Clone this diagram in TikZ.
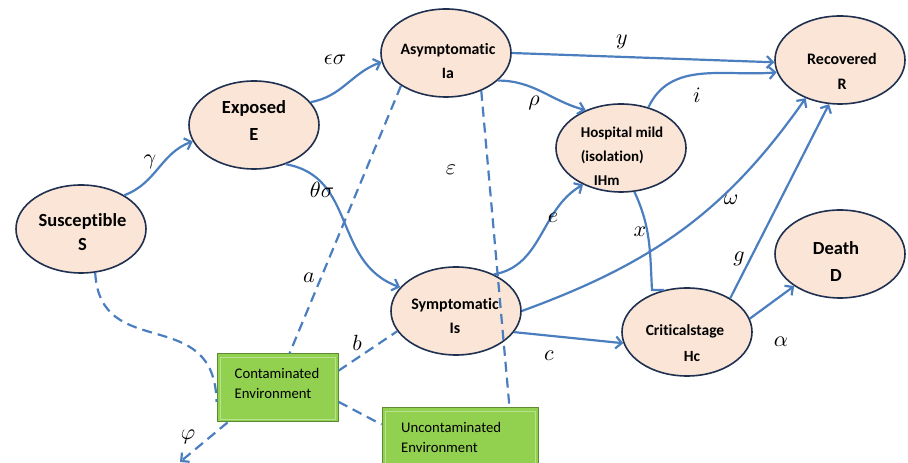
\documentclass[tikz,border=0pt]{standalone}
\usepackage{fontspec}
\newfontfamily\calfont[Ligatures=NoCommon]{Carlito}
\usetikzlibrary{shapes.geometric,arrows.meta,calc}
\definecolor{peach}{HTML}{FBE5D6}
\definecolor{ndark}{HTML}{1F3050}
\definecolor{fblue}{HTML}{4A7EBE}
\definecolor{gfill}{HTML}{92D050}
\definecolor{gdark}{HTML}{5E8A34}
\definecolor{glight}{HTML}{B8E28F}
\newcommand{\ml}[1]{\scalebox{2.2}{$#1$}}
\newcommand{\sz}[2]{\fontsize{#1}{#2}\selectfont}
\tikzset{
  state/.style={ellipse, draw=ndark, fill=peach, line width=1.6pt,
    minimum width=130pt, minimum height=88pt, inner sep=0pt},
  stext/.style={align=center, inner sep=0pt, font=\calfont\bfseries},
  flow/.style={draw=fblue, line width=2.2pt, -{Straight Barb[length=6pt,width=12pt]}},
  plainflow/.style={draw=fblue, line width=2.2pt},
  link/.style={draw=fblue, line width=2.2pt, dash pattern=on 10pt off 6pt},
  envbox/.style={rectangle, draw=gdark, fill=gfill, line width=1pt, inner sep=0pt,
    path picture={\draw[glight, line width=0.9pt]
      ([shift={(3pt,3pt)}]path picture bounding box.south west) rectangle
      ([shift={(-3pt,-3pt)}]path picture bounding box.north east);}},
  envtext/.style={align=left, inner sep=0pt, font=\calfont\fontsize{14.7}{20}\selectfont},
  lab/.style={inner sep=0pt}
}
\begin{document}
\begin{tikzpicture}[x=1pt,y=1pt]
\useasboundingbox (0,0) rectangle (908,463);
\clip (0,0) rectangle (908,463);
% states
\node[state] (S)   at (81,234)  {};
\node[state] (E)   at (254,338) {};
\node[state] (Ia)  at (446,410) {};
\node[state] (IHm) at (621,315) {};
\node[state] (R)   at (840,403) {};
\node[state] (Is)  at (456,152) {};
\node[state] (Hc)  at (687,131) {};
\node[state] (D)   at (840,209) {};
\node[stext, font=\calfont\bfseries\sz{18.5}{24}] (St)  at (82.5,231)  {Susceptible\\S};
\node[stext, font=\calfont\bfseries\sz{18.5}{27}] (Et)  at (254,342)   {Exposed\\E};
\node[stext, font=\calfont\bfseries\sz{15.8}{24}] (Iat) at (448,402)   {Asymptomatic\\Ia};
\node[stext, font=\calfont\bfseries\sz{15}{24}, align=left] (IHmt) at (622,307) {Hospital mild\\(isolation)\\\hspace*{13pt}IHm};
\node[stext, font=\calfont\bfseries\sz{16}{25}] (Rt)  at (842,392)   {Recovered\\R};
\node[stext, font=\calfont\bfseries\sz{16}{24}] (Ist) at (455,147)   {Symptomatic\\Is};
\node[stext, font=\calfont\bfseries\sz{15.5}{26}] (Hct) at (685,120)   {Criticalstage\\\hspace*{14pt}Hc};
\node[stext, font=\calfont\bfseries\sz{18.5}{27}] (Dt)  at (836,201.5) {Death\\D};
% environments
\node[envbox, minimum width=121pt, minimum height=68pt] (CE) at (277.5,75) {};
\node[envtext] (CEt) at (277,80) {Contaminated\\Environment};
\node[envbox, minimum width=156pt, minimum height=75pt] (UE) at (460,17.5) {};
\node[envtext, anchor=west] (UEt) at (401,26) {Uncontaminated\\Environment};
% helper coordinates
\coordinate (xcorner) at (652,173);
\coordinate (xbar) at (664,173);
\coordinate (phiend) at (180,1);
% solid flows
\draw[flow] (S.38) to[out=20,in=200] (E.195);
\draw[flow] (E.22) to[out=10,in=200] (Ia.188);
\draw[flow] (E.-51) to[out=-10,in=160,looseness=1.1] (Is.157);
\draw[flow] (Ia.0) -- (R.182);
\draw[flow] (Ia.-28) to[out=0,in=165] (IHm.133);
\draw[flow] (IHm.56) to[out=65,in=185] (R.191);
\draw[flow] (Is.44) to[out=10,in=210] (IHm.224);
\draw[flow] (Is.0) to[out=20,in=235] (R.228);
\draw[flow] (Is.-20) -- (Hc.190);
\draw[plainflow] (IHm.-73) to[out=-65,in=93] (xcorner) -- (xbar);
\draw[flow] (Hc.38) -- (R.256);
\draw[flow] (Hc.12) -- (D.215);
% dashed links
\draw[link] (S.-72) .. controls (100,100) and (215,160) .. ($(CE.south west)!0.3!(CE.north west)$);
\draw[link] (Ia.216) -- ($(CE.north)+(12,0)$);
\draw[link] ($(CE.north east)!0.25!(CE.south east)$) -- (Is.199);
\draw[link] (Ia.-47) -- ($(UE.north west)+(128,0)$);
\draw[link] ($(CE.north east)!0.7!(CE.south east)$) -- ($(UE.north west)+(0,-17)$);
\draw[link, -{Straight Barb[length=6pt,width=12pt]}] ($(CE.south west)+(11,0)$) -- (phiend);
% labels
\node[lab] (lg) at (150,301) {\ml{\gamma}};
\node[lab] (les) at (335,403) {\ml{\epsilon\sigma}};
\node[lab] (lts) at (322,273) {\ml{\theta\sigma}};
\node[lab] (ly) at (622,421) {\ml{y}};
\node[lab] (lr) at (534,360) {\ml{\rho}};
\node[lab] (li) at (697,368) {\ml{i}};
\node[lab] (le) at (553,245) {\ml{e}};
\node[lab] (lw) at (731,263) {\ml{\omega}};
\node[lab] (lc) at (549,107) {\ml{c}};
\node[lab] (lx) at (640,231) {\ml{x}};
\node[lab] (lgg) at (739,204) {\ml{g}};
\node[lab] (lal) at (781,121) {\ml{\alpha}};
\node[lab] (la) at (309,185) {\ml{a}};
\node[lab] (lb) at (357,120) {\ml{b}};
\node[lab] (lve) at (451,293) {\ml{\varepsilon}};
\node[lab] (lphi) at (188,26) {\ml{\varphi}};
\end{tikzpicture}
\end{document}
